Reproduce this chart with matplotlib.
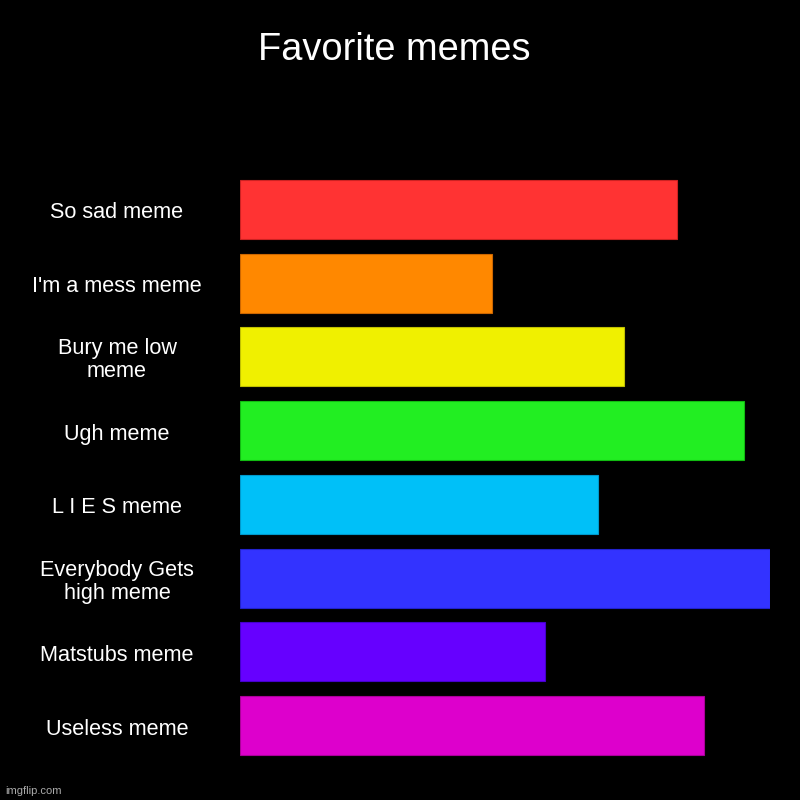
import matplotlib
matplotlib.use("Agg")
import matplotlib.pyplot as plt
from matplotlib.transforms import blended_transform_factory, offset_copy

categories = ["So sad meme", "I'm a mess meme", "Bury me low\nmeme", "Ugh meme",
              "L I E S meme", "Everybody Gets\nhigh meme", "Matstubs meme", "Useless meme"]
values = [33, 19, 29, 38, 27, 40, 23, 35]
colors = ["#ff3333", "#ff8800", "#f0f000", "#22ee22", "#00c0f8", "#3333ff", "#6600ff", "#dd00cc"]
edges = ["#cc2222", "#cc6600", "#c0c000", "#11bb11", "#0099cc", "#2222cc", "#4400cc", "#aa0099"]

plt.rcParams['font.family'] = ['Liberation Sans', 'DejaVu Sans']
fig = plt.figure(figsize=(8, 8), dpi=100, facecolor="black")
ax = fig.add_axes([0.3, 1 - 762.5 / 800, 0.6625, (762.5 - 172.5) / 800])
ax.set_facecolor("black")
ypos = list(range(len(categories)))
ax.barh(ypos, values, height=0.8, color=colors, edgecolor=edges, linewidth=0.8)
ax.set_xlim(0, 40)
ax.set_ylim(len(categories) - 0.5, -0.5)
ax.axis("off")

tr = offset_copy(blended_transform_factory(fig.transFigure, ax.transData),
                 fig=fig, x=0, y=-3.5, units="dots")
for y, c in zip(ypos, categories):
    ax.text(117 / 800, y, c, transform=tr, ha="center", va="center",
            color="white", fontsize=15.6, linespacing=1.12)

fig.text(394.5 / 800, 1 - 50 / 800, "Favorite memes", ha="center", va="center",
         color="white", fontsize=27.4)
fig.text(5 / 800, 1 - 791 / 800, "imgflip.com", ha="left", va="center",
         color="#aaaaaa", fontsize=8)

fig.savefig("out.png", dpi=100, facecolor="black")
